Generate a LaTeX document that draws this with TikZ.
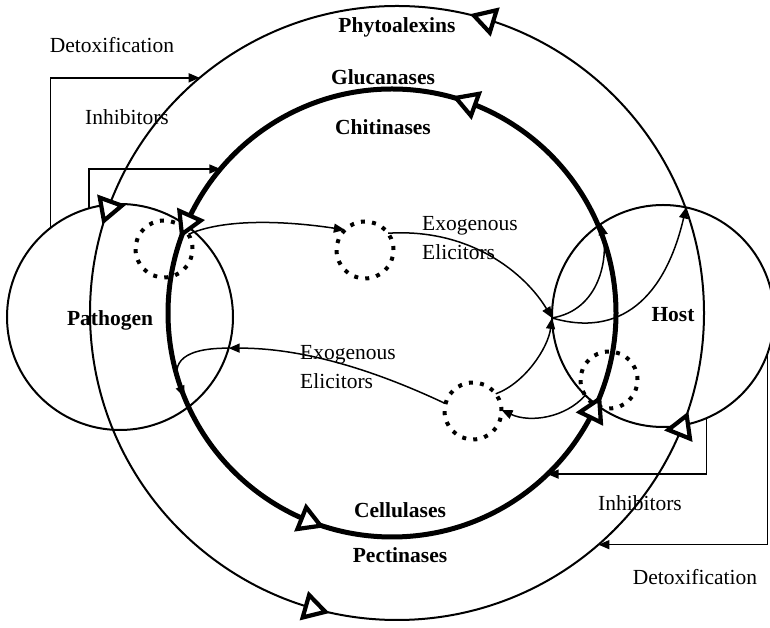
\documentclass[tikz,border=0pt]{standalone}
\usepackage{fontspec}
\setmainfont{Liberation Serif}
\usetikzlibrary{arrows.meta,shapes.geometric}
\begin{document}
\begin{tikzpicture}[x=1pt,y=1pt,
  ring/.style={circle, draw, inner sep=0pt, outer sep=0pt},
  dotring/.style={circle, draw, inner sep=0pt, outer sep=0pt, minimum size=57pt,
    line width=4pt, dash pattern=on 4pt off 7.2pt},
  tri/.style={regular polygon, regular polygon sides=3, draw, fill=white,
    line width=4.2pt, minimum size=27pt, inner sep=0pt},
  conn/.style={line width=1.5pt, -{Triangle[length=11pt,width=9pt]}},
  lab/.style={font=\fontsize{21.5}{29}\selectfont, inner sep=0pt, align=left},
  blab/.style={font=\fontsize{21.5}{29}\selectfont\bfseries, inner sep=0pt}
]
\useasboundingbox (0,0) rectangle (770,628);
\clip (0,0) rectangle (770,628);

% main circles
\node[ring, line width=2pt, minimum size=614pt] (outer) at (397,315) {};
\node[ring, line width=5pt, minimum size=448pt] (inner) at (392,315) {};
\node[ring, line width=2pt, minimum size=226pt] (pat) at (120,311) {};
\node[ring, line width=2pt, minimum size=222pt] (host) at (663,312) {};

% dotted circles
\node[dotring] (d1) at (164,379) {};
\node[dotring] (d2) at (365,378) {};
\node[dotring] (d3) at (473,217) {};
\node[dotring] (d4) at (609,248) {};

% junction points
\coordinate (P) at (host.181);
\coordinate (Q) at (pat.-16);

% labels
\node[lab] (detoxL) at (112,583) {Detoxification};
\node[lab] (inhibL) at (127,511) {Inhibitors};
\node[blab] (phyto) at (397,601) {Phytoalexins};
\node[blab] (gluc) at (383,551) {Glucanases};
\node[blab] (chit) at (383,501) {Chitinases};
\node[blab] (pathlab) at (110,308) {Pathogen};
\node[blab] (hostlab) at (673,313) {Host};
\node[blab] (cell) at (400,118) {Cellulases};
\node[blab] (pect) at (400,73) {Pectinases};
\node[lab] (inhibR) at (640,125) {Inhibitors};
\node[lab] (detoxR) at (695,51) {Detoxification};
\node[lab, anchor=west] (exoU) at (422,390) {Exogenous\\Elicitors};
\node[lab, anchor=west] (exoL) at (300,261) {Exogenous\\Elicitors};

% elbow connectors
\draw[conn] (pat.128) |- (outer.130);
\draw[conn] (pat.106) |- (inner.140);
\draw[conn] (host.-67) |- (inner.-46);
\draw[conn] (host.-20) |- (outer.-49);

% curved connectors
\draw[conn] (d1.31) .. controls (230,412) and (300,405) .. (d2.135);
\draw[conn] (d2.36) .. controls (470,400) and (525,355) .. (P);
\draw[conn] (P) .. controls (600,318) and (608,370) .. (host.124);
\draw[conn] (P) .. controls (620,290) and (665,330) .. (host.78);
\draw[conn] (d3.37) .. controls (525,245) and (548,280) .. (P);
\draw[conn] (d4.213) .. controls (565,210) and (530,205) .. (d3.2);
\draw[conn] (d3.165) .. controls (370,260) and (300,280) .. (Q);
\draw[conn] (Q) .. controls (175,280) and (172,260) .. (inner.202);

% direction triangles
\node[tri, rotate=73] (to1) at (outer.73) {};
\node[tri, rotate=160] (to2) at (outer.160) {};
\node[tri, rotate=254] (to3) at (outer.254) {};
\node[tri, rotate=-22] (to4) at (outer.-22) {};
\node[tri, rotate=70] (ti1) at (inner.70) {};
\node[tri, rotate=156] (ti2) at (inner.156) {};
\node[tri, rotate=248] (ti3) at (inner.248) {};
\node[tri, rotate=-26] (ti4) at (inner.-26) {};
\end{tikzpicture}
\end{document}
